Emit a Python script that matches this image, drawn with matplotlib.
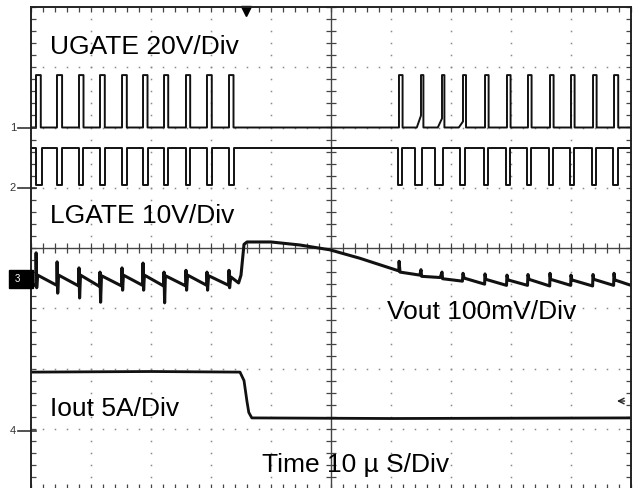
import matplotlib.pyplot as plt
from matplotlib.patches import Rectangle
import numpy as np

plt.rcParams['font.family'] = ['Liberation Sans', 'DejaVu Sans']

# time base: 10 us/div, 10 div across; vertical in divisions (-4..4)
# UGATE (ch1) pulse rising edges, us
ugate_on = [0.83, 4.33, 8.0, 11.5, 15.17, 18.67, 22.17, 25.83, 29.33, 33.0,
            61.33, 65.0, 68.5, 72.0, 75.67, 79.33, 82.83, 86.5, 90.0, 93.67, 97.17]
ugate_w = [0.8, 0.85, 0.75, 0.8, 0.8, 0.75, 0.7, 0.7, 0.8, 0.75,
           0.6, 0.4, 0.4, 0.5, 0.6, 0.6, 0.6, 0.6, 0.6, 0.6, 0.7]
ugate_ramp = [0, 0, 0, 0, 0, 0, 0, 0, 0, 0,
              0, 0.2, 0.15, 0.1, 0, 0, 0, 0, 0, 0, 0]
ugate_base = 2.0
ugate_high = 2.87

# LGATE (ch2) low intervals, us
lgate_lo_start = [0.83, 4.33, 8.0, 11.5, 15.17, 18.67, 22.17, 25.83, 29.33, 33.0,
                  61.17, 64.0, 67.33, 71.5, 75.5, 79.2, 82.7, 86.3, 89.9, 93.5, 97.0]
lgate_lo_end = [1.83, 5.17, 8.67, 12.33, 16.0, 19.5, 22.83, 26.5, 30.17, 33.83,
                61.83, 65.17, 68.67, 72.33, 76.17, 79.83, 83.33, 87.0, 90.5, 94.17, 97.83]
lgate_high = 1.66
lgate_low = 1.05

# Vout (ch3) trace vertices
vout_t = [0.0, 0.8, 0.85, 0.95, 1.1, 4.3, 4.35, 4.45, 4.6, 7.95, 8.0, 8.1, 8.25,
          11.45, 11.5, 11.6, 11.75, 15.1, 15.17, 15.27, 15.4, 18.6, 18.67, 18.77, 18.9,
          22.1, 22.17, 22.27, 22.4, 25.8, 25.83, 25.93, 26.1, 29.3, 29.33, 29.43, 29.6,
          32.95, 33.0, 33.1, 33.3, 34.6, 35.0, 35.5, 36.0, 40.0, 44.8, 49.8, 54.8, 58.2,
          61.3, 61.35, 61.5, 64.8, 65.0, 65.1, 68.2, 68.5, 68.6, 71.9, 72.0, 72.2,
          75.6, 75.67, 75.8, 79.25, 79.33, 79.5, 82.75, 82.83, 83.0, 86.45, 86.5, 86.6,
          89.95, 90.0, 90.15, 93.6, 93.67, 93.8, 97.1, 97.17, 97.3, 100.0]
vout_v = [-0.58, -0.63, -0.08, -0.66, -0.45, -0.62, -0.23, -0.75, -0.45, -0.63, -0.33, -0.83, -0.45,
          -0.64, -0.40, -0.90, -0.46, -0.63, -0.33, -0.70, -0.45, -0.62, -0.25, -0.70, -0.45,
          -0.63, -0.40, -0.91, -0.46, -0.63, -0.37, -0.70, -0.45, -0.62, -0.40, -0.70, -0.46,
          -0.62, -0.37, -0.66, -0.48, -0.58, -0.45, 0.06, 0.10, 0.10, 0.05, -0.03, -0.17, -0.28,
          -0.38, -0.22, -0.40, -0.45, -0.36, -0.47, -0.49, -0.40, -0.51, -0.55, -0.42, -0.50,
          -0.60, -0.43, -0.52, -0.62, -0.45, -0.53, -0.62, -0.44, -0.52, -0.63, -0.42, -0.52,
          -0.62, -0.45, -0.53, -0.63, -0.44, -0.52, -0.62, -0.42, -0.53, -0.62]

# Iout (ch4) trace vertices
iout_t = [0.0, 20.0, 34.83, 35.5, 36.0, 36.3, 36.8, 60.0, 100.0]
iout_v = [-2.06, -2.05, -2.06, -2.2, -2.55, -2.73, -2.82, -2.83, -2.82]

ch_markers = [('1', 1.99), ('2', 1.0), ('4', -3.04)]
trig_time = 35.83
trig_level = -2.54

ink = '#111111'

fig = plt.figure(figsize=(6.44, 4.88), dpi=100)
ax = fig.add_axes([31/644, -1/488, 600/644, 482/488])
ax.set_xlim(0, 100)
ax.set_ylim(-4, 4)

# graticule
for gx in [10, 20, 30, 40, 60, 70, 80, 90]:
    gy = np.arange(-4, 4.01, 0.2)
    ax.plot(np.full(gy.size, gx), gy, ls='none', marker='s', ms=1.1, color='#8a8a8a', mew=0)
for gy in [-3, -2, -1, 1, 2, 3]:
    gx = np.arange(0, 100.1, 2)
    ax.plot(gx, np.full(gx.size, gy), ls='none', marker='s', ms=1.1, color='#8a8a8a', mew=0)
ax.axhline(0, color='#444444', lw=1.0)
ax.axvline(50, color='#444444', lw=1.0)
ax.vlines(np.arange(0, 100.1, 2), -0.08, 0.08, color='#444444', lw=0.9)
ax.hlines(np.arange(-4, 4.01, 0.2), 49.2, 50.8, color='#444444', lw=0.9)

ax.set_xticks(np.arange(0, 100.1, 2))
ax.set_yticks(np.arange(-4, 4.01, 0.2))
ax.tick_params(direction='in', length=3.5, width=0.9, color='#444444',
               top=True, right=True, labelleft=False, labelbottom=False)
for s in ax.spines.values():
    s.set_color('#222222')
    s.set_linewidth(1.4)

# UGATE
ug_t, ug_v = [0.0], [ugate_base]
for t0, w, r in zip(ugate_on, ugate_w, ugate_ramp):
    ug_t += [t0 - 0.7, t0, t0, t0 + w, t0 + w]
    ug_v += [ugate_base, ugate_base + r, ugate_high, ugate_high, ugate_base]
ug_t.append(100.0)
ug_v.append(ugate_base)
ax.plot(ug_t, ug_v, color=ink, lw=1.4)

# LGATE
lg_t, lg_v = [0.0], [lgate_high]
for a, b in zip(lgate_lo_start, lgate_lo_end):
    lg_t += [a, a, b, b]
    lg_v += [lgate_high, lgate_low, lgate_low, lgate_high]
lg_t.append(100.0)
lg_v.append(lgate_high)
ax.plot(lg_t, lg_v, color=ink, lw=1.4)

ax.plot(vout_t, vout_v, color=ink, lw=2.2)
ax.plot(iout_t, iout_v, color=ink, lw=2.0)

# channel markers on the left
for lab, y in ch_markers:
    ax.text(-3.0, y, lab, fontsize=8, ha='center', va='center', color='#333333', clip_on=False)
    ax.plot([-2.2, 0.8], [y, y], color='#333333', lw=1.2, clip_on=False)
ax.add_patch(Rectangle((-3.67, -0.66), 4.0, 0.29, color='black', clip_on=False, zorder=5))
ax.text(-2.2, -0.52, '3', fontsize=7, color='white', ha='center', va='center', zorder=6, clip_on=False)

# trigger marks
ax.plot([trig_time], [3.93], marker='v', ms=7, color='black', clip_on=False)
ax.annotate('', xy=(97.2, trig_level), xytext=(99.4, trig_level),
            arrowprops=dict(arrowstyle='->', lw=1.0, color='#222222'))

fs = 19
ax.text(3.17, 3.22, 'UGATE 20V/Div', fontsize=fs, va='baseline')
ax.text(3.17, 0.415, 'LGATE 10V/Div', fontsize=fs, va='baseline')
ax.text(59.3, -1.18, 'Vout 100mV/Div', fontsize=fs, va='baseline')
ax.text(3.17, -2.79, 'Iout 5A/Div', fontsize=fs, va='baseline')
ax.text(38.5, -3.72, 'Time 10 µ S/Div', fontsize=fs, va='baseline')

plt.savefig('out.png', dpi=100)
